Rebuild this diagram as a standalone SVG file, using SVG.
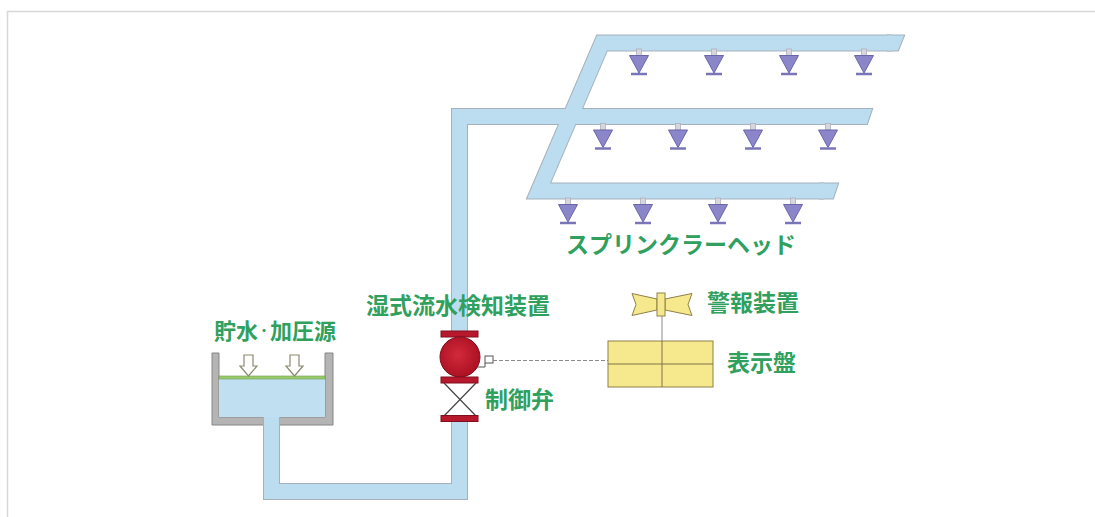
<svg xmlns="http://www.w3.org/2000/svg" width="1095" height="517" viewBox="0 0 1095 517">
  <style>
    .lbl{font-family:"Noto Sans CJK JP","Noto Sans CJK SC",sans-serif;font-size:23px;font-weight:700;fill:#2fa05e;}
    .pipe-o{fill:none;stroke:#a3b1bd;stroke-width:17;stroke-linejoin:miter;}
    .pipe-f{fill:none;stroke:#bcdcf0;stroke-width:15;stroke-linejoin:miter;}
    .end-o{fill:#a3b1bd;stroke:#a3b1bd;stroke-width:2;stroke-linejoin:miter;}
    .end-f{fill:#bcdcf0;}
    .flange{fill:#b8182c;stroke:#7e0e1c;stroke-width:1;}
    .yel{fill:#f6e88c;stroke:#8f8048;stroke-width:1;}
    .wall{fill:#b4b4b4;stroke:#868686;stroke-width:1;}
    .press{fill:#ffffff;stroke:#8a8a70;stroke-width:1.2;}
  </style>
  <defs>
    <radialGradient id="ballShade" cx="0.45" cy="0.45" r="0.6">
      <stop offset="0" stop-color="#d22a3c"/>
      <stop offset="1" stop-color="#a80f20"/>
    </radialGradient>
    <!-- sprinkler head, origin at the underside of its branch pipe -->
    <g id="head">
      <rect x="-2.5" y="-1" width="5" height="6.5" fill="#d6d6de" stroke="#b0b0bc" stroke-width="0.8"/>
      <polygon points="-9.5,5.5 9.5,5.5 0,23" fill="#8b86c9" stroke="#6b65a9" stroke-width="1"/>
      <line x1="-8" y1="24" x2="8" y2="24" stroke="#7a74b8" stroke-width="2.5"/>
    </g>
  </defs>

  <rect width="1095" height="517" fill="#ffffff"/>
  <!-- frame -->
  <path d="M7.5,517 V11.5 H1095" fill="none" stroke="#d8d8d8" stroke-width="1.5"/>

  <!-- water tank -->
  <g id="tank">
    <path class="wall" d="M212,353 V425 H333 V353 H325 V417 H219 V353 Z"/>
    <rect x="219" y="378" width="106" height="39" fill="#c0e0f2"/>
    <rect x="219" y="376" width="106" height="3" fill="#9ccc6a" stroke="#6a9a50" stroke-width="0.6"/>
    <path class="press" d="M244,355 H253 V366 H257 L248.5,376 L240,366 H244 Z"/>
    <path class="press" d="M290,355 H299 V366 H303 L294.5,376 L286,366 H290 Z"/>
  </g>

  <!-- piping: outline pass, then fill pass -->
  <g id="piping">
    <path class="pipe-o" d="M271.5,417 V491.5 H459.5 V116.5 H862"/>
    <path class="pipe-o" d="M892,43 H602 L538.5,191 H824"/>
    <polygon class="end-o" points="888,35.5 904,35.5 898,50.5 888,50.5"/>
    <polygon class="end-o" points="858,109 872,109 867,124 858,124"/>
    <polygon class="end-o" points="820,183.5 838,183.5 833,198.5 820,198.5"/>
    <path class="pipe-f" d="M271.5,417 V491.5 H459.5 V116.5 H862"/>
    <path class="pipe-f" d="M892,43 H602 L538.5,191 H824"/>
    <polygon class="end-f" points="888,35.5 904,35.5 898,50.5 888,50.5"/>
    <polygon class="end-f" points="858,109 872,109 867,124 858,124"/>
    <polygon class="end-f" points="820,183.5 838,183.5 833,198.5 820,198.5"/>
  </g>

  <!-- sprinkler heads -->
  <g id="heads">
    <use href="#head" x="639" y="50"/>
    <use href="#head" x="714" y="50"/>
    <use href="#head" x="789" y="50"/>
    <use href="#head" x="864" y="50"/>
    <use href="#head" x="603" y="124.5"/>
    <use href="#head" x="678" y="124.5"/>
    <use href="#head" x="753" y="124.5"/>
    <use href="#head" x="828" y="124.5"/>
    <use href="#head" x="568" y="199"/>
    <use href="#head" x="643" y="199"/>
    <use href="#head" x="718" y="199"/>
    <use href="#head" x="793" y="199"/>
  </g>

  <!-- wet alarm valve with control valve below -->
  <g id="alarm-valve">
    <rect x="449" y="337" width="21" height="79" fill="#ffffff"/>
    <line x1="444" y1="383" x2="476" y2="416" stroke="#444" stroke-width="1.2"/>
    <line x1="476" y1="383" x2="444" y2="416" stroke="#444" stroke-width="1.2"/>
    <rect class="flange" x="441" y="331" width="37" height="6"/>
    <circle cx="460" cy="357" r="20" fill="url(#ballShade)" stroke="#7e0e1c" stroke-width="1"/>
    <rect class="flange" x="441" y="377" width="37" height="6"/>
    <rect class="flange" x="441" y="415.5" width="37" height="6"/>
    <path d="M477,367 H485 V363" fill="none" stroke="#555" stroke-width="1"/>
    <rect x="485" y="356" width="8" height="7" fill="#ffffff" stroke="#555" stroke-width="1"/>
  </g>

  <!-- indicator panel -->
  <g id="panel">
    <rect class="yel" x="608" y="341" width="105" height="46"/>
    <line x1="608" y1="364" x2="713" y2="364" stroke="#7f7448" stroke-width="1"/>
    <line x1="662" y1="341" x2="662" y2="387" stroke="#7f7448" stroke-width="1"/>
  </g>

  <!-- alarm horn -->
  <g id="alarm">
    <polygon class="yel" points="632,293.5 657,299 657,310 632,315.5 636,304.5"/>
    <polygon class="yel" points="692,293.5 665,299 665,310 692,315.5 688,304.5"/>
    <rect class="yel" x="657" y="293" width="8" height="23"/>
  </g>

  <!-- signal wiring -->
  <g id="connectors">
    <line x1="493" y1="360.5" x2="608" y2="360.5" stroke="#8a8a8a" stroke-width="1" stroke-dasharray="4 2"/>
    <line x1="662" y1="316" x2="662" y2="341" stroke="#8a8a8a" stroke-width="1"/>
  </g>

  <!-- labels -->
  <g id="labels">
    <text class="lbl" x="214" y="339" style="font-size:22px">貯水</text>
    <text class="lbl" x="258" y="336" style="font-size:12px">・</text>
    <text class="lbl" x="270" y="339" style="font-size:22px">加圧源</text>
    <text class="lbl" x="366" y="314">湿式流水検知装置</text>
    <text class="lbl" x="485" y="408">制御弁</text>
    <text class="lbl" x="707" y="311">警報装置</text>
    <text class="lbl" x="727" y="371">表示盤</text>
    <text class="lbl" x="566" y="253">スプリンクラーヘッド</text>
  </g>
</svg>
